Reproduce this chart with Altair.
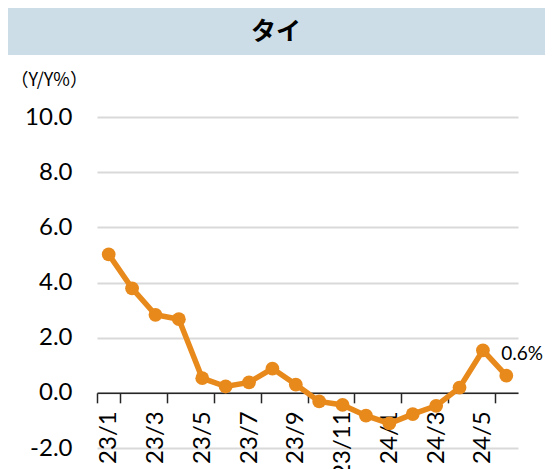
import altair as alt
import pandas as pd

# ---- data ----
months = ["23/1", "23/2", "23/3", "23/4", "23/5", "23/6", "23/7", "23/8", "23/9",
          "23/10", "23/11", "23/12", "24/1", "24/2", "24/3", "24/4", "24/5", "24/6"]
values = [5.02, 3.79, 2.83, 2.67, 0.53, 0.23, 0.38, 0.88, 0.30,
          -0.31, -0.44, -0.83, -1.11, -0.77, -0.47, 0.19, 1.54, 0.62]
tick_months = months[::2]
y_ticks = [-2, 0, 2, 4, 6, 8, 10]
title_text = "タイ"
y_title = "（Y/Y%）"
last_label = ["0.6%"]

df = pd.DataFrame({"month": months, "value": values})
last_df = pd.DataFrame({"month": [months[-1]], "value": [values[-1]], "label": last_label})

W, H = 421, 331
PAD_L, PAD_T, PAD_R, PAD_B = 89, 109, 27, 21
ORANGE = "#E8891C"
FONT = "Lato"
JP = "Noto Sans CJK JP"

x_enc = alt.X(
    "month:O", sort=months,
    scale=alt.Scale(type="band", paddingInner=0, paddingOuter=0),
    axis=alt.Axis(
        values=tick_months, title=None, labelAngle=270, offset=-H * 2 / 12,
        domainColor="#262626", domainWidth=1.5, tickColor="#262626", tickWidth=1.5,
        tickSize=10, tickBand="extent", labelPadding=8, labelFontSize=24,
        labelFont=FONT, labelColor="#000000", grid=False,
    ),
)
y_enc = alt.Y(
    "value:Q", scale=alt.Scale(domain=[-2, 10], nice=False, zero=False),
    axis=alt.Axis(
        values=y_ticks, labelExpr="replace(format(datum.value, '.1f'), '−', '-')",
        title=y_title, titleAngle=0, titleAlign="left", titleBaseline="middle",
        titleX=-87, titleY=-37, titleFontSize=18, titleFontWeight="normal",
        titleFont=JP, titleColor="#000000",
        labelFontSize=24, labelFont=FONT, labelColor="#000000", labelPadding=25,
        ticks=False, domain=False, gridColor="#D9D9D9", gridWidth=2,
    ),
)

base = alt.Chart(df)
line = base.mark_line(color=ORANGE, strokeWidth=5.5).encode(x=x_enc, y=y_enc)
points = base.mark_point(filled=True, color=ORANGE, size=190, opacity=1).encode(x=x_enc, y=y_enc)
label = alt.Chart(last_df).mark_text(
    align="left", baseline="middle", dx=-5, dy=-22, fontSize=19, font=FONT, color="#000000"
).encode(x=alt.X("month:O", sort=months), y="value:Q", text="label:N")

one = alt.Data(values=[{"a": 1}])
banner = alt.Chart(one).mark_rect(color="#CCDDE8").encode(
    x=alt.value(-PAD_L), x2=alt.value(W + PAD_R), y=alt.value(-109), y2=alt.value(-62)
)
title = alt.Chart(one).mark_text(
    text=title_text, font=JP, fontSize=25, fontWeight="bold", color="#000000",
    align="center", baseline="middle"
).encode(x=alt.value(179), y=alt.value(-85))

chart = alt.layer(banner, title, line, points, label).properties(
    width=W, height=H,
    autosize=alt.AutoSizeParams(type="none"),
    padding={"left": PAD_L, "top": PAD_T, "right": PAD_R, "bottom": PAD_B},
).configure_view(stroke=None)

chart.save("out.html", embed_options={"renderer": "svg", "actions": False})
